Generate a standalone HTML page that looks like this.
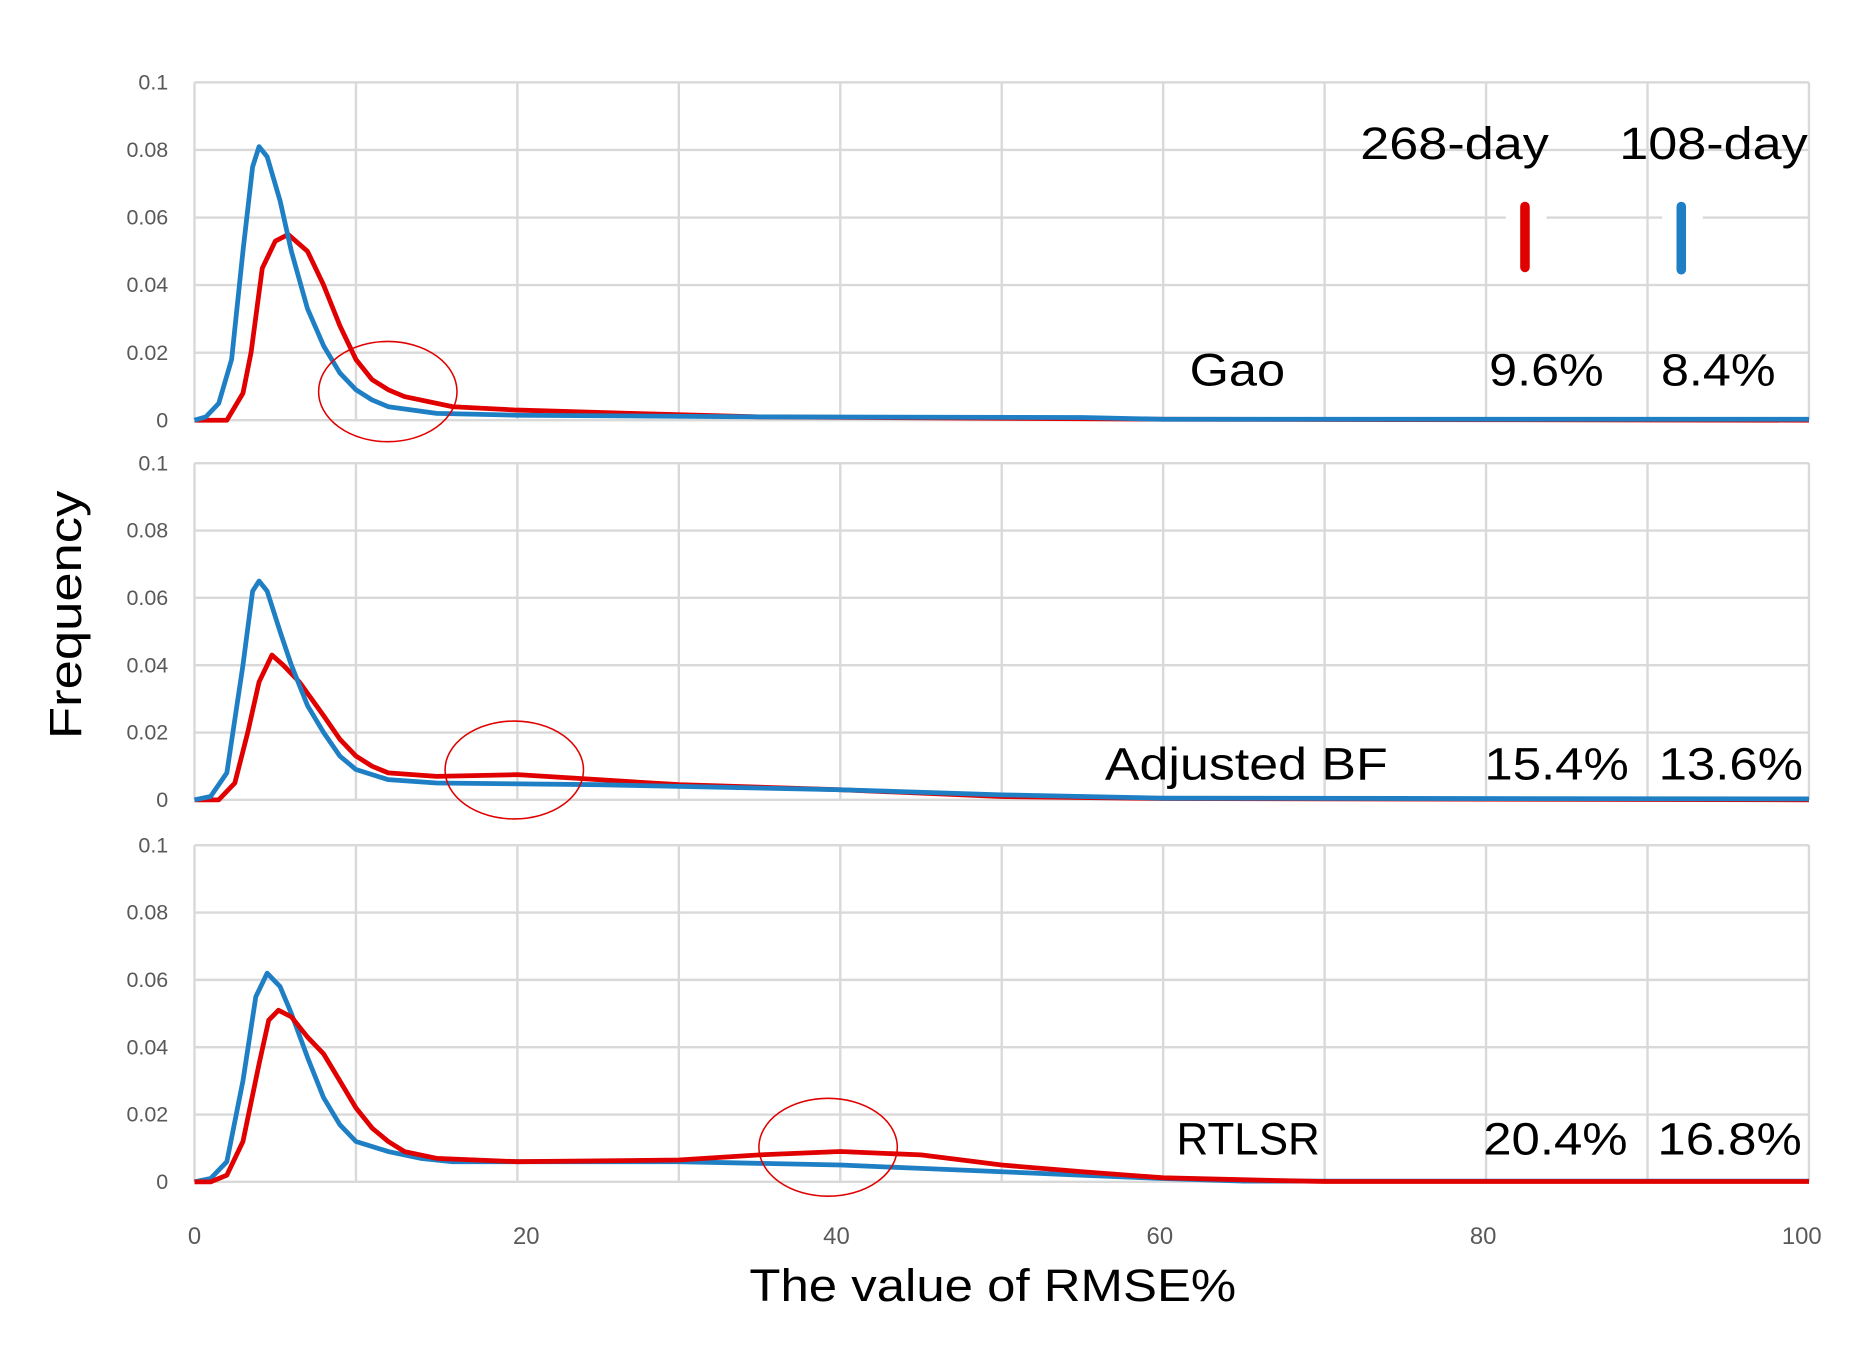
<!DOCTYPE html>
<html><head><meta charset="utf-8"><style>
html,body{margin:0;padding:0;background:#fff;width:1871px;height:1349px;overflow:hidden}
svg{display:block}
text{font-family:"Liberation Sans",sans-serif}
</style></head><body>
<svg id="s" width="1871" height="1349" viewBox="0 0 1568 1130" preserveAspectRatio="none" xmlns="http://www.w3.org/2000/svg">
<g id="grid"></g>
<g id="curves"></g>
<ellipse cx="325" cy="328" rx="58" ry="42" fill="none" stroke="#e00000" stroke-width="1.3"/>
<ellipse cx="431" cy="645" rx="58" ry="41" fill="none" stroke="#e00000" stroke-width="1.3"/>
<ellipse cx="694" cy="961" rx="58" ry="41" fill="none" stroke="#e00000" stroke-width="1.3"/>
<rect x="1262" y="165" width="34" height="66" fill="#fff"/>
<rect x="1393" y="165" width="34" height="66" fill="#fff"/>
<line x1="1278" y1="173" x2="1278" y2="224" stroke="#e00000" stroke-width="8" stroke-linecap="round"/>
<line x1="1409" y1="173" x2="1409" y2="226" stroke="#1f7fc4" stroke-width="8" stroke-linecap="round"/>
<g font-size="38" fill="#000">
<text x="1140" y="133" textLength="158" lengthAdjust="spacingAndGlyphs">268-day</text>
<text x="1357" y="133" textLength="158" lengthAdjust="spacingAndGlyphs">108-day</text>
<text x="997" y="323" textLength="80" lengthAdjust="spacingAndGlyphs">Gao</text>
<text x="1248" y="323" textLength="96" lengthAdjust="spacingAndGlyphs">9.6%</text>
<text x="1392" y="323" textLength="96" lengthAdjust="spacingAndGlyphs">8.4%</text>
<text x="926" y="653" textLength="237" lengthAdjust="spacingAndGlyphs">Adjusted BF</text>
<text x="1244" y="653" textLength="121" lengthAdjust="spacingAndGlyphs">15.4%</text>
<text x="1390" y="653" textLength="121" lengthAdjust="spacingAndGlyphs">13.6%</text>
<text x="986" y="967" textLength="120" lengthAdjust="spacingAndGlyphs">RTLSR</text>
<text x="1243" y="967" textLength="121" lengthAdjust="spacingAndGlyphs">20.4%</text>
<text x="1389" y="967" textLength="121" lengthAdjust="spacingAndGlyphs">16.8%</text>
<text x="628" y="1090" textLength="408" lengthAdjust="spacingAndGlyphs">The value of RMSE%</text>
<text transform="translate(68,515) rotate(-90)" text-anchor="middle" textLength="208" lengthAdjust="spacingAndGlyphs">Frequency</text>
</g>
<g id="labels" font-size="18" fill="#595959"></g>
</svg>
<script>
var NS="http://www.w3.org/2000/svg";
function el(p,t,a,txt){var e=document.createElementNS(NS,t);for(var k in a)e.setAttribute(k,a[k]);if(txt!==undefined)e.textContent=txt;document.getElementById(p).appendChild(e);return e;}
var X0=163,X1=1516;
var panels=[{top:69,bot:352},{top:388,bot:670},{top:708,bot:990}];
function px(x){return X0+(X1-X0)*x/100;}
panels.forEach(function(p){
  for(var i=0;i<=5;i++){var y=p.bot-(p.bot-p.top)*i/5;
    el("grid","line",{x1:X0,x2:X1,y1:y,y2:y,stroke:"#d9d9d9","stroke-width":2});
    var lab=i==0?"0":(i==5?"0.1":"0.0"+(2*i));
    el("labels","text",{x:141,y:y+6,"text-anchor":"end"},lab);}
  for(var j=0;j<=10;j++){var x=px(j*10);el("grid","line",{x1:x,x2:x,y1:p.top,y2:p.bot,stroke:"#d9d9d9","stroke-width":2});}
});
[[0,163],[20,441],[40,701],[60,972],[80,1243],[100,1510]].forEach(function(a){el("labels","text",{x:a[1],y:1042,"text-anchor":"middle","font-size":"20"},String(a[0]));});
var data=[
 [ // panel1
  [[0,0],[2,0],[3,0.008],[3.5,0.02],[4.2,0.045],[5,0.053],[5.8,0.055],[7,0.05],[8,0.04],[9,0.028],[10,0.018],[11,0.012],[12,0.009],[13,0.007],[16,0.004],[20,0.003],[27,0.002],[35,0.001],[60,0.0003],[100,0]],
  [[0,0],[0.7,0.001],[1.5,0.005],[2.3,0.018],[3,0.05],[3.6,0.075],[4,0.081],[4.5,0.078],[5.3,0.065],[6,0.05],[7,0.033],[8,0.022],[9,0.014],[10,0.009],[11,0.006],[12,0.004],[15,0.002],[20,0.0015],[35,0.001],[55,0.0008],[60,0.0003],[100,0.0003]]
 ],
 [
  [[0,0],[1.5,0],[2.5,0.005],[3.3,0.02],[4,0.035],[4.8,0.043],[5.5,0.04],[6.5,0.035],[8,0.025],[9,0.018],[10,0.013],[11,0.01],[12,0.008],[15,0.007],[20,0.0075],[25,0.006],[30,0.0045],[40,0.003],[50,0.001],[60,0.0004],[100,0]],
  [[0,0],[1,0.001],[2,0.008],[3,0.04],[3.6,0.062],[4,0.065],[4.5,0.062],[5.3,0.05],[6,0.04],[7,0.028],[8,0.02],[9,0.013],[10,0.009],[12,0.006],[15,0.005],[25,0.0045],[30,0.004],[40,0.003],[50,0.0015],[60,0.0005],[100,0.0003]]
 ],
 [
  [[0,0],[1,0],[2,0.002],[3,0.012],[4,0.035],[4.6,0.048],[5.2,0.051],[6,0.049],[7,0.043],[8,0.038],[9,0.03],[10,0.022],[11,0.016],[12,0.012],[13,0.009],[15,0.007],[20,0.006],[30,0.0065],[35,0.008],[40,0.009],[45,0.008],[50,0.005],[55,0.003],[60,0.0012],[67,0.0004],[70,0.0001],[100,0.0001]],
  [[0,0],[1,0.001],[2,0.006],[3,0.03],[3.8,0.055],[4.5,0.062],[5.3,0.058],[6,0.05],[7,0.037],[8,0.025],[9,0.017],[10,0.012],[12,0.009],[14,0.007],[16,0.006],[20,0.006],[30,0.006],[40,0.005],[45,0.004],[50,0.003],[55,0.002],[60,0.001],[65,0.0002],[100,0.0002]]
 ]
];
data.forEach(function(d,i){var p=panels[i];
  function pts(arr){return arr.map(function(q){return px(q[0]).toFixed(1)+","+(p.bot-(p.bot-p.top)*q[1]/0.1).toFixed(1);}).join(" ");}
  var order=i==2?[1,0]:[0,1];
  order.forEach(function(k){el("curves","polyline",{points:pts(d[k]),fill:"none",stroke:k==0?"#e00000":"#1f7fc4","stroke-width":4,"stroke-linejoin":"round"});});
});
</script>
</body></html>
